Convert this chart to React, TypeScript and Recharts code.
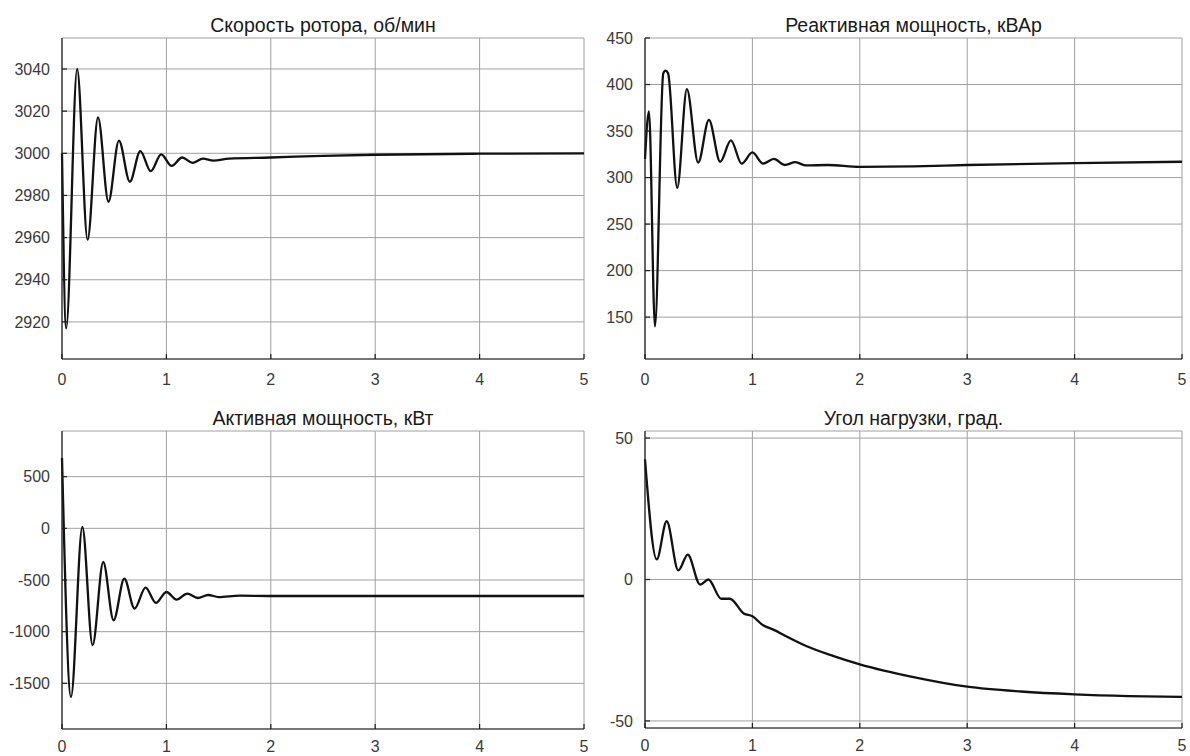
import { LineChart, Line, XAxis, YAxis, CartesianGrid } from "recharts"

const FONT = '"Liberation Sans", Arial, sans-serif'

const timeTicks = [0, 1, 2, 3, 4, 5]

// Скорость ротора, об/мин
const speedTime = [0, 0.04, 0.145, 0.245, 0.345, 0.445, 0.545, 0.65, 0.75, 0.85, 0.95, 1.05, 1.15, 1.25, 1.35, 1.45, 1.6, 2.0, 2.5, 3.0, 4.0, 5.0]
const speedRpm = [3000, 2917, 3040, 2959, 3017, 2977, 3006, 2986.5, 3001, 2991.5, 2999.5, 2994, 2998, 2995.5, 2997.5, 2996.5, 2997.5, 2998, 2998.8, 2999.3, 2999.8, 3000]
const speedTicks = [2920, 2940, 2960, 2980, 3000, 3020, 3040]

// Реактивная мощность, кВАр
const reactiveTime = [0, 0.037, 0.093, 0.17, 0.19, 0.215, 0.3, 0.39, 0.495, 0.595, 0.7, 0.8, 0.9, 1.0, 1.1, 1.2, 1.3, 1.4, 1.5, 1.7, 2.0, 2.5, 3.0, 4.0, 5.0]
const reactiveKvar = [320, 371, 140, 412, 415, 412, 289, 395, 316, 362, 317, 340, 315, 327, 315, 320, 313.5, 316.5, 313, 313.5, 311.5, 312, 313.5, 315.5, 317]
const reactiveTicks = [150, 200, 250, 300, 350, 400, 450]

// Активная мощность, кВт
const activeTime = [0, 0.086, 0.195, 0.293, 0.395, 0.494, 0.597, 0.695, 0.8, 0.9, 1.0, 1.097, 1.2, 1.3, 1.4, 1.5, 1.7, 2.0, 3.0, 4.0, 5.0]
const activeKw = [680, -1631, 13, -1131, -326, -890, -487, -777, -574, -722, -616, -690, -632, -674, -645, -665, -652, -655, -655, -655, -655]
const activeTicks = [-1500, -1000, -500, 0, 500]

// Угол нагрузки, град.
const angleTime = [0, 0.109, 0.202, 0.31, 0.398, 0.513, 0.59, 0.71, 0.79, 0.92, 1.0, 1.1, 1.2, 1.3, 1.5, 1.75, 2.0, 2.5, 3.0, 3.5, 4.0, 4.5, 5.0]
const angleDeg = [42.5, 7.1, 20.6, 3.2, 8.8, -1.8, 0, -6.8, -6.8, -12, -13, -16.2, -17.8, -19.8, -23.5, -27, -30, -34.5, -37.9, -39.6, -40.6, -41.2, -41.5]
const angleTicks = [-50, 0, 50]

type Box = { x: number; y: number; w: number; h: number }

const AXIS_W = 62
const TITLE_H = 38
const RIGHT_PAD = 8
const BOX_COLOR = "#1f1f1f"
const tickStyle = { fill: "#3a3a3a", fontSize: 16 }

interface PanelProps {
  title: string
  box: Box
  time: number[]
  values: number[]
  domain: [number, number]
  ticks: number[]
  labelHeight: number
  labelGap: number
}

function Panel({ title, box, time, values, domain, ticks, labelHeight, labelGap }: PanelProps) {
  const data = time.map((t, i) => ({ t, v: values[i] }))
  const width = box.w + AXIS_W + RIGHT_PAD
  const height = box.h + TITLE_H + labelHeight
  const line = { stroke: BOX_COLOR, strokeWidth: 1.2 }
  return (
    <>
      <div
        style={{
          position: "absolute",
          left: box.x,
          top: box.y - 24,
          width: box.w,
          textAlign: "center",
          fontSize: 19.5,
          lineHeight: "22px",
          color: "#1a1a1a",
        }}
      >
        {title}
      </div>
      <div style={{ position: "absolute", left: box.x - AXIS_W, top: box.y - TITLE_H }}>
        <LineChart
          width={width}
          height={height}
          data={data}
          margin={{ top: TITLE_H, right: RIGHT_PAD, bottom: 0, left: 0 }}
        >
          <CartesianGrid stroke="#a0a0a0" />
          <XAxis
            dataKey="t"
            type="number"
            domain={[0, 5]}
            ticks={timeTicks}
            interval={0}
            height={labelHeight}
            tickSize={-5}
            tickMargin={labelGap}
            axisLine={line}
            tickLine={line}
            tick={tickStyle}
          />
          <XAxis
            xAxisId="top"
            orientation="top"
            type="number"
            domain={[0, 5]}
            ticks={timeTicks}
            height={0}
            tickSize={-5}
            axisLine={line}
            tickLine={line}
            tick={false}
          />
          <YAxis
            type="number"
            domain={domain}
            ticks={ticks}
            interval={0}
            width={AXIS_W}
            tickSize={-5}
            tickMargin={17}
            axisLine={line}
            tickLine={line}
            tick={tickStyle}
          />
          <YAxis
            yAxisId="right"
            orientation="right"
            type="number"
            domain={domain}
            ticks={ticks}
            width={0}
            tickSize={-5}
            axisLine={line}
            tickLine={line}
            tick={false}
          />
          <Line
            dataKey="v"
            type="monotone"
            stroke="#111"
            strokeWidth={2.3}
            dot={false}
            isAnimationActive={false}
          />
        </LineChart>
      </div>
    </>
  )
}

export default function App() {
  return (
    <div
      style={{
        position: "absolute",
        left: 0,
        top: 0,
        width: 1190,
        height: 756,
        background: "#fff",
        fontFamily: FONT,
      }}
    >
      <Panel
        title="Скорость ротора, об/мин"
        box={{ x: 62, y: 38, w: 522, h: 321 }}
        time={speedTime}
        values={speedRpm}
        domain={[2902.4, 3054.7]}
        ticks={speedTicks}
        labelHeight={34}
        labelGap={20}
      />
      <Panel
        title="Реактивная мощность, кВАр"
        box={{ x: 645, y: 38, w: 537, h: 321 }}
        time={reactiveTime}
        values={reactiveKvar}
        domain={[105, 450]}
        ticks={reactiveTicks}
        labelHeight={34}
        labelGap={20}
      />
      <Panel
        title="Активная мощность, кВт"
        box={{ x: 62, y: 431, w: 522, h: 298 }}
        time={activeTime}
        values={activeKw}
        domain={[-1942, 942]}
        ticks={activeTicks}
        labelHeight={27}
        labelGap={17}
      />
      <Panel
        title="Угол нагрузки, град."
        box={{ x: 645, y: 431, w: 537, h: 297 }}
        time={angleTime}
        values={angleDeg}
        domain={[-52.5, 52.5]}
        ticks={angleTicks}
        labelHeight={28}
        labelGap={17}
      />
    </div>
  )
}
